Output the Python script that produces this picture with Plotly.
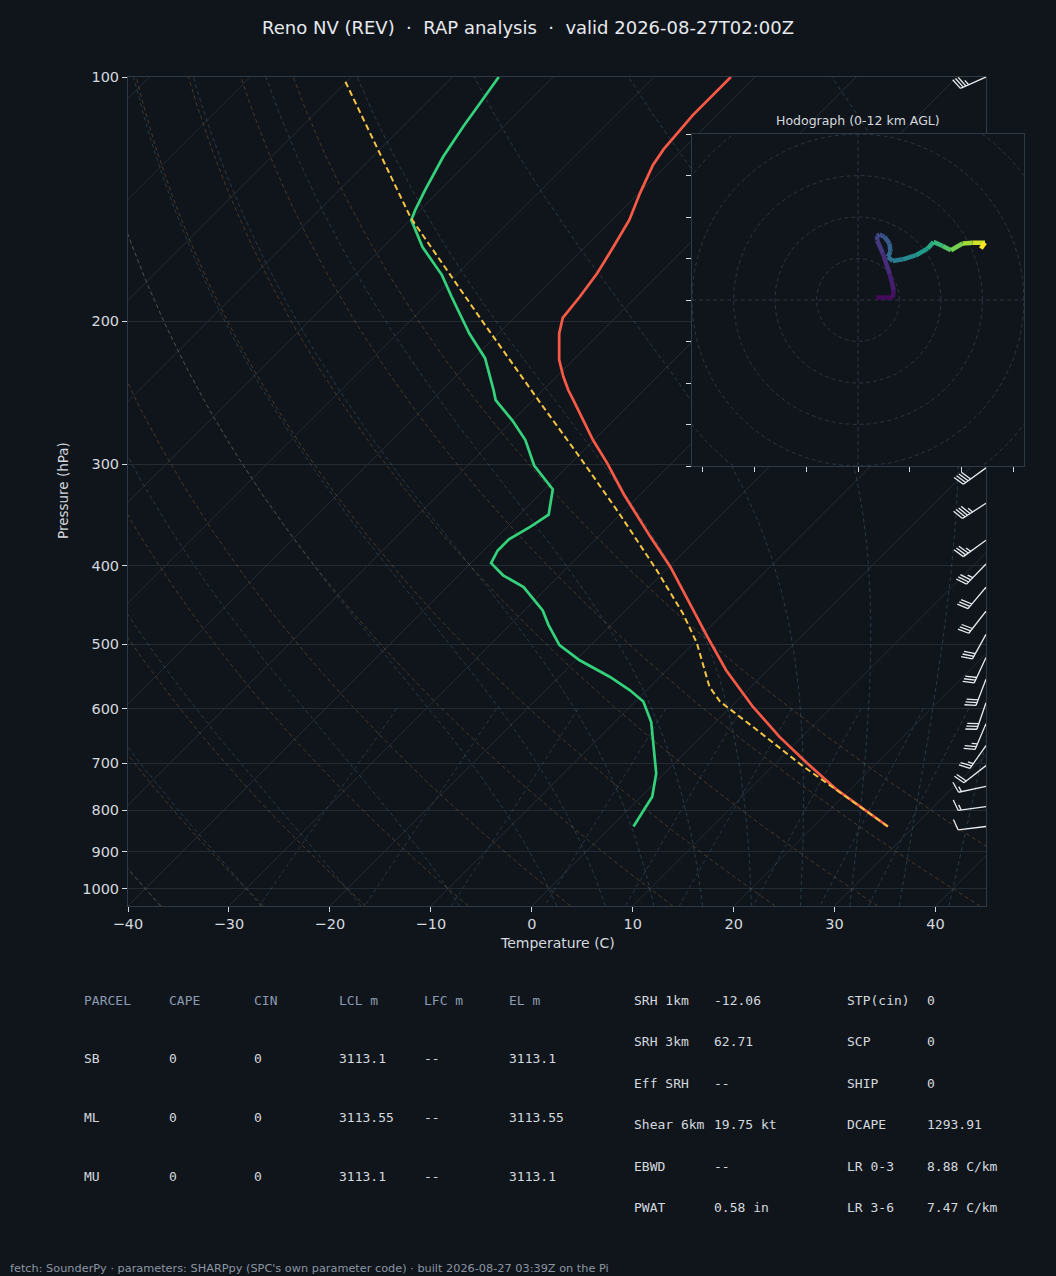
import numpy as np
import plotly.graph_objects as go
from plotly.colors import sample_colorscale

W, H = 1056, 1276
BG = "#10151c"
AX = "#2f3a47"
GRID = "#232b35"
TXT = "#d4d9df"
HEAD = "#8c9bb0"

# ---- sounding (hPa, degC) ----
temp_p = [838, 755, 700, 650, 597, 538, 489, 445, 401, 368, 327, 299, 280, 250,
          243, 234, 223, 207, 198, 186.5, 174.5, 162, 150, 139, 128.4, 122.8, 111.4, 100]
temp_c = [27.4, 18.7, 13.1, 7.8, 2.2, -4.1, -9.3, -14.3, -19.9, -24.9, -31.6, -36.4, -40.1, -46.0,
          -47.5, -49.3, -51.4, -54.0, -55.2, -55.6, -56.2, -57.2, -58.3, -59.9, -61.4, -61.9, -62.4, -62.4]

dew_p = [838, 770, 721, 662, 623, 588, 569, 548, 523, 501, 473, 454, 425, 411, 397, 383, 371,
         358, 346, 322, 301, 280, 265, 250, 243, 222, 207, 186.5, 175.4, 162, 150, 145.8, 137.8,
         125.4, 115.1, 106.2, 100]
dew_c = [2.2, 1.1, -0.8, -4.1, -6.4, -9.2, -11.7, -15.0, -19.6, -23.1, -26.2, -28.2, -32.4, -35.6,
         -38.0, -38.6, -38.6, -37.7, -37.1, -39.2, -43.4, -46.8, -50.0, -53.7, -54.9, -58.9, -62.9,
         -68.3, -71.4, -76.1, -79.9, -80.5, -81.5, -83.0, -84.0, -84.8, -85.4]

parcel_p = [838, 755, 707, 632, 588, 564, 498, 458, 405, 345, 294, 252, 200, 149, 101]
parcel_c = [27.4, 18.6, 13.1, 4.2, -1.6, -4.1, -9.7, -14.0, -20.9, -30.2, -39.7, -49.0, -62.8, -80.2, -100.3]

# wind barbs (hPa, deg from, kt)
barb_p = [100, 303, 335, 372, 398, 425, 455, 486, 519, 552, 590, 626, 666, 705, 748, 792, 838]
barb_dir = [246, 234, 237, 234, 224, 220, 218, 209, 205, 201, 199, 203, 215, 232, 258, 262, 263]
barb_kt = [35, 40, 45, 35, 35, 30, 30, 30, 30, 30, 30, 25, 25, 20, 15, 15, 10]

# hodograph (u, v) and height km
hodo_u = [4.4, 8.4, 8.6, 7.6, 6.0, 4.6, 4.6, 5.2, 6.4, 7.6, 7.8, 7.2, 8.4, 10.8, 14.0, 16.8,
          18.2, 20.4, 22.4, 25.2, 27.6, 30.6, 29.6]
hodo_v = [0.6, 0.6, 2.4, 6.4, 11.2, 14.4, 15.4, 15.8, 15.2, 13.6, 11.6, 10.4, 9.4, 9.8, 10.8, 12.4,
          14.0, 13.0, 12.0, 13.6, 13.8, 13.8, 12.4]
hodo_h = [0.0, 0.3, 0.6, 1.0, 1.5, 2.0, 2.3, 2.6, 2.9, 3.3, 3.7, 4.0, 4.4, 5.0, 5.7, 6.5,
          7.2, 8.0, 8.7, 9.5, 10.3, 11.2, 12.0]

# parameter table
parcel_names = ["SB", "ML", "MU"]
parcel_cape = ["0", "0", "0"]
parcel_cin = ["0", "0", "0"]
parcel_lcl = ["3113.1", "3113.55", "3113.1"]
parcel_lfc = ["--", "--", "--"]
parcel_el = ["3113.1", "3113.55", "3113.1"]
table_head = ["PARCEL", "CAPE", "CIN", "LCL m", "LFC m", "EL m"]
kin_names = ["SRH 1km", "SRH 3km", "Eff SRH", "Shear 6km", "EBWD", "PWAT"]
kin_vals = ["-12.06", "62.71", "--", "19.75 kt", "--", "0.58 in"]
comp_names = ["STP(cin)", "SCP", "SHIP", "DCAPE", "LR 0-3", "LR 3-6"]
comp_vals = ["0", "0", "0", "1293.91", "8.88 C/km", "7.47 C/km"]

# ---- geometry ----
SK_L, SK_R, SK_T, SK_B = 128, 986, 77, 906
HO_L, HO_R, HO_T, HO_B = 692, 1024, 134, 466
T_MIN, T_MAX = -40, 45
P_BOT, P_TOP = 1050, 100
px_deg = (SK_R - SK_L) / (T_MAX - T_MIN)
px_dec = (SK_B - SK_T) / np.log10(P_BOT / P_TOP)
SKEW = px_dec / px_deg


def skew_x(t, p):
    return np.asarray(t, float) + SKEW * np.log10(P_BOT / np.asarray(p, float))


def fx(px):
    return px / W


def fy(py):
    return 1 - py / H


fig = go.Figure()


def add_line(x, y, color, width=1, dash=None, xa="x", ya="y"):
    fig.add_trace(go.Scatter(x=x, y=y, mode="lines", xaxis=xa, yaxis=ya,
                             line=dict(color=color, width=width, dash=dash),
                             hoverinfo="skip"))


# isotherms
for t in range(-130, 41, 10):
    pp = np.array([P_BOT, P_TOP])
    add_line(skew_x([t, t], pp), pp, "#242b34", 1)

# dry adiabats
p_line = np.geomspace(P_BOT, P_TOP, 120)
for t0 in range(-40, 51, 10):
    t = (t0 + 273.15) * (p_line / 1000.0) ** 0.2857 - 273.15
    add_line(skew_x(t, p_line), p_line, "rgba(190,130,60,0.32)", 1, "4px,3px")


# moist adiabats
def dtdp(tk, p):
    es = 6.112 * np.exp(17.67 * (tk - 273.15) / (tk - 29.65))
    rs = 0.622 * es / (p - es)
    return (287.05 * tk + 2.501e6 * rs) / (1004.0 + 2.501e6 ** 2 * rs * 0.622 / (287.05 * tk ** 2)) / p


def run_moist(t0, ps):
    tk = t0 + 273.15
    out = [tk]
    for a, b in zip(ps[:-1], ps[1:]):
        h = b - a
        k1 = dtdp(tk, a)
        k2 = dtdp(tk + h * k1 / 2, a + h / 2)
        k3 = dtdp(tk + h * k2 / 2, a + h / 2)
        k4 = dtdp(tk + h * k3, b)
        tk = tk + h * (k1 + 2 * k2 + 2 * k3 + k4) / 6
        out.append(tk)
    return np.array(out) - 273.15


moist_t0 = list(range(-40, 0, 10)) + list(range(0, 46, 5))
up = np.geomspace(1000, P_TOP, 150)
dn = np.linspace(1000, P_BOT, 6)
for t0 in moist_t0:
    tu = run_moist(t0, up)
    td = run_moist(t0, dn)
    pp = np.concatenate([dn[::-1], up[1:]])
    tt = np.concatenate([td[::-1], tu[1:]])
    add_line(skew_x(tt, pp), pp, "rgba(90,140,165,0.30)", 1, "4px,3px")

# mixing ratio lines
mix_w = [0.0004, 0.001, 0.002, 0.004, 0.007, 0.01, 0.016, 0.024, 0.032]
p_mix = np.linspace(600, P_BOT, 30)
for w in mix_w:
    e = p_mix * w / (0.622 + w)
    lg = np.log(e / 6.112)
    td = 243.5 * lg / (17.67 - lg)
    add_line(skew_x(td, p_mix), p_mix, "rgba(90,125,155,0.30)", 1, "4px,3px")

# profiles
add_line(skew_x(temp_c, temp_p), temp_p, "#f95a46", 2.7)
add_line(skew_x(dew_c, dew_p), dew_p, "#34d27a", 2.7)
add_line(skew_x(parcel_c, parcel_p), parcel_p, "#f4c542", 2.0, "6px,3.5px")

# wind barbs at the right edge
bx, by = [], []
L, FH, FW, SP = 28.0, 11.0, 3.5, 3.0
for p0, wd, spd in zip(barb_p, barb_dir, barb_kt):
    a = np.radians(wd)
    d = np.array([np.sin(a), -np.cos(a)])
    n = np.array([-d[1], d[0]])
    segs = [(np.zeros(2), d * L)]
    s = 5 * int(round(spd / 5.0))
    flags, rem = divmod(s, 50)
    full, rem = divmod(rem, 10)
    pos = L
    for _ in range(flags):
        b0 = d * pos
        b1 = d * (pos - 2 * SP)
        tip = b0 + n * FH - d * SP
        segs += [(b0, tip), (tip, b1)]
        pos -= 2 * SP + SP
    for _ in range(full):
        b0 = d * pos
        segs.append((b0, b0 + n * FH + d * FW))
        pos -= SP
    if rem >= 5:
        if flags == 0 and full == 0:
            pos -= 1.5 * SP
        b0 = d * pos
        segs.append((b0, b0 + n * FH / 2 + d * FW / 2))
    for s0, s1 in segs:
        for q in (s0, s1):
            bx.append(T_MAX + q[0] / px_deg)
            by.append(p0 * 10 ** (q[1] / px_dec))
        bx.append(None)
        by.append(None)
add_line(bx, by, "#e8ecef", 1.3)

# ---- hodograph ----
add_line([-40, 40, 40, -40, -40], [-40, -40, 40, 40, -40], BG, 0, None, "x2", "y2")
fig.data[-1].update(fill="toself", fillcolor=BG)
ang = np.linspace(0, 2 * np.pi, 200)
for r in range(10, 61, 10):
    add_line(r * np.cos(ang), r * np.sin(ang), "#2a3441", 1, "4px,3px", "x2", "y2")
add_line([-40, 40], [0, 0], "#2a3441", 1, "4px,3px", "x2", "y2")
add_line([0, 0], [-40, 40], "#2a3441", 1, "4px,3px", "x2", "y2")
cols = sample_colorscale("Viridis", [h / max(hodo_h) for h in hodo_h])
for i in range(len(hodo_u) - 1):
    add_line(hodo_u[i:i + 2], hodo_v[i:i + 2], cols[i + 1], 4.5, None, "x2", "y2")

# ---- layout ----
ticks_p = [100, 200, 300, 400, 500, 600, 700, 800, 900, 1000]
ticks_t = list(range(-40, 41, 10))
fig.update_layout(
    width=W, height=H, margin=dict(l=0, r=0, t=0, b=0, pad=0), autosize=False,
    paper_bgcolor=BG, plot_bgcolor=BG, showlegend=False, hovermode=False,
    font=dict(family="DejaVu Sans", color=TXT),
    xaxis=dict(domain=[fx(SK_L), fx(SK_R)], range=[T_MIN, T_MAX], anchor="y", automargin=False,
               tickvals=ticks_t, ticktext=[str(t).replace("-", "\u2212") for t in ticks_t],
               ticks="outside", ticklen=5, tickcolor=TXT, tickfont=dict(size=14.5, color=TXT),
               showgrid=False, zeroline=False, showline=True, mirror=True, linecolor=AX),
    yaxis=dict(domain=[fy(SK_B), fy(SK_T)], type="log", range=[np.log10(P_BOT), np.log10(P_TOP)],
               anchor="x", automargin=False, tickvals=ticks_p, ticktext=[str(p) for p in ticks_p],
               ticks="outside", ticklen=5, tickcolor=TXT, tickfont=dict(size=14.5, color=TXT),
               showgrid=True, gridcolor=GRID, gridwidth=1, zeroline=False,
               showline=True, mirror=True, linecolor=AX),
    xaxis2=dict(domain=[fx(HO_L), fx(HO_R)], range=[-40, 40], anchor="y2", automargin=False,
                tickvals=[-37.5, -25, -12.5, 0, 12.5, 25, 37.5], showticklabels=False,
                ticks="outside", ticklen=5, tickcolor=TXT, showgrid=False, zeroline=False,
                showline=True, mirror=True, linecolor=AX),
    yaxis2=dict(domain=[fy(HO_B), fy(HO_T)], range=[-40, 40], anchor="x2", automargin=False,
                tickvals=list(range(-40, 41, 10)), showticklabels=False,
                ticks="outside", ticklen=5, tickcolor=TXT, showgrid=False, zeroline=False,
                showline=True, mirror=True, linecolor=AX),
)


def note(x, y, text, size=13, color=TXT, family="DejaVu Sans", xanchor="left", angle=0):
    if xanchor == "left":
        x -= 2  # annotation box padding
    fig.add_annotation(x=fx(x), y=fy(y), xref="paper", yref="paper", text=text,
                       showarrow=False, xanchor=xanchor, yanchor="middle", textangle=angle,
                       font=dict(size=size, color=color, family=family))


note(528, 27, "Reno NV (REV)  \u00b7  RAP analysis  \u00b7  valid 2026-08-27T02:00Z",
     size=18, color="#e6e9ed", xanchor="center")
note(858, 120, "Hodograph (0-12 km AGL)", size=12.5, xanchor="center")
note(557, 943, "Temperature (C)", size=14, xanchor="center")
note(63, 491, "Pressure (hPa)", size=13.5, xanchor="center", angle=-90)

MONO = "DejaVu Sans Mono"
col_x = [84, 169, 254, 339, 424, 509]
for cx, h in zip(col_x, table_head):
    note(cx, 1000, h, color=HEAD, family=MONO)
rows_y = [1058, 1117, 1176]
for ry, vals in zip(rows_y, zip(parcel_names, parcel_cape, parcel_cin, parcel_lcl, parcel_lfc, parcel_el)):
    for cx, v in zip(col_x, vals):
        note(cx, ry, v, family=MONO)
right_y = [1000, 1041, 1083, 1124, 1166, 1207]
for ry, a, b, c, d in zip(right_y, kin_names, kin_vals, comp_names, comp_vals):
    note(634, ry, a, family=MONO)
    note(714, ry, b, family=MONO)
    note(847, ry, c, family=MONO)
    note(927, ry, d, family=MONO)

note(10, 1268, "fetch: SounderPy \u00b7 parameters: SHARPpy (SPC's own parameter code) \u00b7 "
     "built 2026-08-27 03:39Z on the Pi", size=11.3, color="#8b95a1")

fig.write_html("out.html", config={"displayModeBar": False},
               post_script="document.body.style.margin='0px';"
               "document.body.style.background='" + BG + "';")
